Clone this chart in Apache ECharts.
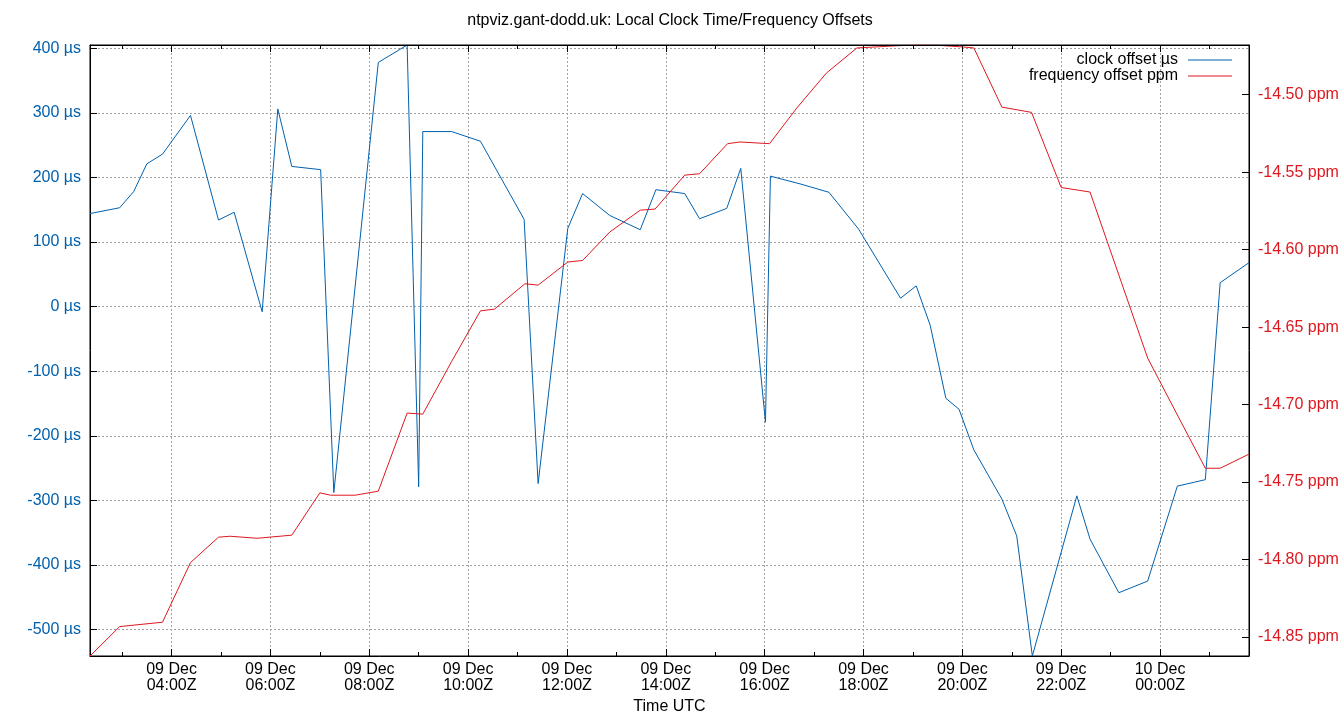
<!DOCTYPE html>
<html><head><meta charset="utf-8">
<script src="https://cdn.jsdelivr.net/npm/echarts@6/dist/echarts.min.js"></script>
<style>html,body{margin:0;padding:0;background:#fff}#c{width:1340px;height:720px}</style>
</head><body><div id="c"></div>
<script>
// ---- data ----
const clockTimes = [
 '2024-12-09T02:21:00Z','2024-12-09T02:57:00Z','2024-12-09T03:14:00Z','2024-12-09T03:30:00Z','2024-12-09T03:49:00Z',
 '2024-12-09T04:23:00Z','2024-12-09T04:57:00Z','2024-12-09T05:16:00Z','2024-12-09T05:50:00Z','2024-12-09T06:09:00Z',
 '2024-12-09T06:26:00Z','2024-12-09T07:01:00Z','2024-12-09T07:17:00Z','2024-12-09T08:11:00Z','2024-12-09T08:46:00Z',
 '2024-12-09T09:00:00Z','2024-12-09T09:05:00Z','2024-12-09T09:40:00Z','2024-12-09T10:15:00Z','2024-12-09T11:08:00Z',
 '2024-12-09T11:25:00Z','2024-12-09T12:01:00Z','2024-12-09T12:19:00Z','2024-12-09T12:52:00Z','2024-12-09T13:29:00Z',
 '2024-12-09T13:48:00Z','2024-12-09T14:23:00Z','2024-12-09T14:41:00Z','2024-12-09T15:14:00Z','2024-12-09T15:31:00Z',
 '2024-12-09T16:01:00Z','2024-12-09T16:07:00Z','2024-12-09T16:43:00Z','2024-12-09T17:18:00Z','2024-12-09T17:54:00Z',
 '2024-12-09T18:45:00Z','2024-12-09T19:04:00Z','2024-12-09T19:21:00Z','2024-12-09T19:40:00Z','2024-12-09T19:56:00Z',
 '2024-12-09T20:14:00Z','2024-12-09T20:48:00Z','2024-12-09T21:06:00Z','2024-12-09T21:25:00Z','2024-12-09T22:19:00Z',
 '2024-12-09T22:35:00Z','2024-12-09T23:10:00Z','2024-12-09T23:45:00Z','2024-12-10T00:21:00Z','2024-12-10T00:55:00Z',
 '2024-12-10T01:13:00Z','2024-12-10T01:48:00Z'
];
const clockValues = [
 144,153,178,221,236,296,134,146,-8,306,
 217,212,-288,378,405,-279,271,271,256,135,
 -274,121,175,141,119,181,175,136,152,214,
 -179,202,190,177,120,13,32,-29,-142,-159,
 -222,-298,-355,-541,-293,-360,-443,-425,-278,-268,
 37,68
];
const freqTimes = [
 '2024-12-09T02:21:00Z','2024-12-09T02:57:00Z','2024-12-09T03:49:00Z','2024-12-09T04:23:00Z','2024-12-09T04:57:00Z',
 '2024-12-09T05:11:00Z','2024-12-09T05:44:00Z','2024-12-09T06:26:00Z','2024-12-09T07:00:00Z','2024-12-09T07:13:00Z',
 '2024-12-09T07:43:00Z','2024-12-09T08:11:00Z','2024-12-09T08:46:00Z','2024-12-09T09:05:00Z','2024-12-09T09:40:00Z',
 '2024-12-09T10:15:00Z','2024-12-09T10:32:00Z','2024-12-09T11:09:00Z','2024-12-09T11:25:00Z','2024-12-09T12:01:00Z',
 '2024-12-09T12:19:00Z','2024-12-09T12:52:00Z','2024-12-09T13:29:00Z','2024-12-09T13:47:00Z','2024-12-09T14:23:00Z',
 '2024-12-09T14:41:00Z','2024-12-09T15:15:00Z','2024-12-09T15:30:00Z','2024-12-09T16:06:00Z','2024-12-09T16:39:00Z',
 '2024-12-09T17:15:00Z','2024-12-09T17:52:00Z','2024-12-09T18:40:00Z','2024-12-09T19:05:00Z','2024-12-09T19:31:00Z',
 '2024-12-09T20:01:00Z','2024-12-09T20:14:00Z','2024-12-09T20:48:00Z','2024-12-09T21:24:00Z','2024-12-09T22:00:00Z',
 '2024-12-09T22:35:00Z','2024-12-09T23:45:00Z','2024-12-10T00:02:00Z','2024-12-10T00:22:00Z','2024-12-10T00:55:00Z',
 '2024-12-10T01:13:00Z','2024-12-10T01:48:00Z'
];
const freqValues = [
 -14.8623,-14.8433,-14.8405,-14.8020,-14.7856,
 -14.7850,-14.7863,-14.7843,-14.7570,-14.7585,
 -14.7585,-14.7559,-14.7055,-14.7062,-14.6722,
 -14.6395,-14.6384,-14.6220,-14.6229,-14.6080,
 -14.6070,-14.5886,-14.5745,-14.5738,-14.5519,
 -14.5510,-14.5316,-14.5305,-14.5316,-14.5086,
 -14.4860,-14.4698,-14.4684,-14.4679,-14.4681,
 -14.4692,-14.4698,-14.5080,-14.5114,-14.5599,
 -14.5628,-14.6700,-14.6873,-14.7077,-14.7411,
 -14.7411,-14.7320
];
const seriesNames = ['clock offset µs', 'frequency offset ppm'];
const titleText = 'ntpviz.gant-dodd.uk: Local Clock Time/Frequency Offsets';
const xAxisName = 'Time UTC';
const monthNames = ['Jan','Feb','Mar','Apr','May','Jun','Jul','Aug','Sep','Oct','Nov','Dec'];

// ---- chart ----
const FONT = 'Liberation Sans';
const BLUE = '#0060ad', RED = '#dd181f', GRID = '#a0a0a0';
const HOUR = 3600000;
const clockData = clockTimes.map((t, i) => [Date.parse(t), clockValues[i]]);
const freqData = freqTimes.map((t, i) => [Date.parse(t), freqValues[i]]);
const allT = clockData.concat(freqData).map(d => d[0]);
const tMin = Math.min(...allT), tMax = Math.max(...allT);
const pad = n => String(n).padStart(2, '0');
function timeLabel(v) {
  const d = new Date(v);
  return pad(d.getUTCDate()) + ' ' + monthNames[d.getUTCMonth()] + '\n' +
         pad(d.getUTCHours()) + ':' + pad(d.getUTCMinutes()) + 'Z';
}
const gridLine = { show: true, lineStyle: { color: GRID, width: 1, type: [2, 2] } };
// ECharts picks a 2-hour step when the approximate interval is between 2h and 3.5h,
// and a 1-hour step below 2h.
function xBase(pos, major, extra) {
  const approx = major ? 2.5 * HOUR : 0.9 * HOUR;
  return Object.assign({
    type: 'time', gridIndex: 0, position: pos, min: tMin, max: tMax,
    minInterval: approx, maxInterval: approx, splitNumber: major ? 10 : 26,
    axisLine: { show: false, onZero: false },
    axisTick: { show: true, inside: true, length: major ? 7 : 4, lineStyle: { color: '#000', width: 1 } },
    axisLabel: { show: false },
    splitLine: { show: false }
  }, extra || {});
}

const chart = echarts.init(document.getElementById('c'), null, { renderer: 'canvas' });
chart.setOption({
  animation: false,
  useUTC: true,
  backgroundColor: '#fff',
  title: {
    text: titleText, left: 'center', top: 8,
    textStyle: { fontFamily: FONT, fontSize: 16, fontWeight: 'normal', color: '#000' }
  },
  legend: {
    orient: 'vertical', right: 108, top: 52, padding: 0, align: 'right',
    icon: 'rect', itemWidth: 44, itemHeight: 1, itemGap: 0,
    textStyle: { fontFamily: FONT, fontSize: 16, color: '#000', lineHeight: 15, padding: [0, 5, 0, 0] },
    data: seriesNames
  },
  grid: {
    left: 90, right: 91, top: 45, bottom: 64,
    show: true, borderColor: '#000', borderWidth: 1, containLabel: false, outerBoundsMode: 'none'
  },
  xAxis: [
    xBase('bottom', true, {
      axisLine: { show: true, onZero: false, lineStyle: { color: '#000', width: 1 } },
      axisLabel: {
        show: true, formatter: timeLabel, showMinLabel: false, showMaxLabel: false,
        margin: 6, fontFamily: FONT, fontSize: 16, color: '#000', lineHeight: 16
      },
      splitLine: gridLine,
      name: xAxisName, nameLocation: 'middle', nameGap: 41,
      nameTextStyle: { fontFamily: FONT, fontSize: 16, color: '#000' }
    }),
    xBase('bottom', false),
    xBase('top', true, { z: 10, axisLine: { show: true, onZero: false, lineStyle: { color: '#000', width: 1 } } }),
    xBase('top', false)
  ],
  yAxis: [
    {
      type: 'value', position: 'left', min: 'dataMin', max: 'dataMax', splitNumber: 10,
      axisLine: { show: true, onZero: false, lineStyle: { color: '#000', width: 1 } },
      axisTick: { show: true, inside: true, length: 7, lineStyle: { color: '#000', width: 1 } },
      axisLabel: {
        formatter: v => Math.round(v) + ' µs', color: BLUE, fontFamily: FONT, fontSize: 16,
        margin: 9, showMinLabel: false, showMaxLabel: false
      },
      splitLine: gridLine
    },
    {
      type: 'value', position: 'right', min: 'dataMin', max: 'dataMax', splitNumber: 8,
      axisLine: { show: true, onZero: false, lineStyle: { color: '#000', width: 1 } },
      axisTick: { show: true, inside: true, length: 7, lineStyle: { color: '#000', width: 1 } },
      axisLabel: {
        formatter: v => v.toFixed(2) + ' ppm', color: RED, fontFamily: FONT, fontSize: 16,
        margin: 9, showMinLabel: false, showMaxLabel: false
      },
      splitLine: { show: false }
    }
  ],
  series: [
    {
      name: seriesNames[0], type: 'line', xAxisIndex: 0, yAxisIndex: 0, data: clockData,
      symbol: 'none', showSymbol: false, z: 3,
      lineStyle: { color: BLUE, width: 1 }, itemStyle: { color: BLUE }
    },
    {
      name: seriesNames[1], type: 'line', xAxisIndex: 0, yAxisIndex: 1, data: freqData,
      symbol: 'none', showSymbol: false, z: 3,
      lineStyle: { color: RED, width: 1 }, itemStyle: { color: RED }
    }
  ]
});
</script>
</body></html>
